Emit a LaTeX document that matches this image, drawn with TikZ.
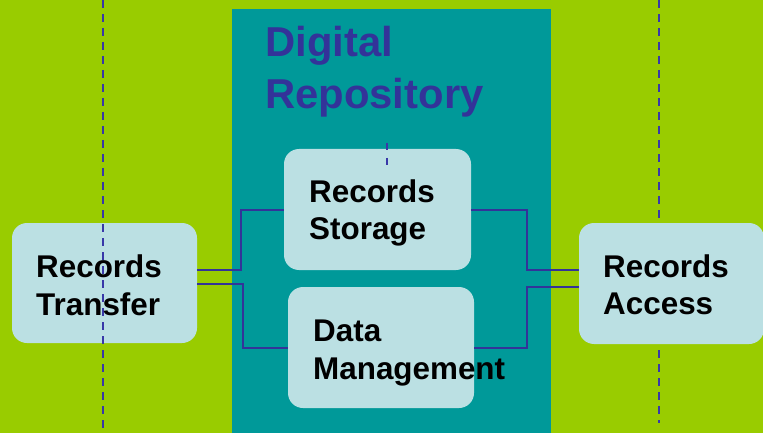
\documentclass[tikz,border=0pt]{standalone}
\usepackage{fontspec}
\setmainfont{Liberation Sans}
\usetikzlibrary{calc}
\definecolor{bggreen}{HTML}{99CC00}
\definecolor{teal}{HTML}{009999}
\definecolor{boxfill}{HTML}{BBE0E3}
\definecolor{linecol}{HTML}{333399}
\definecolor{dashcol}{HTML}{3838A8}
\tikzset{
  box/.style={draw=none, fill=boxfill, rounded corners=15pt, inner sep=0pt},
  lbl/.style={anchor=base west, inner sep=0pt, font=\fontsize{31.4}{38}\selectfont\bfseries, text=black},
  title/.style={anchor=base west, inner sep=0pt, font=\fontsize{41.8}{52}\selectfont\bfseries, text=linecol},
  conn/.style={draw=linecol, line width=2pt},
  dashline/.style={draw=dashcol, line width=1.8pt, dash pattern=on 8pt off 6pt}
}
\begin{document}
\begin{tikzpicture}[x=1pt,y=-1pt]
\useasboundingbox (0,0) rectangle (763,433);
\clip (0,0) rectangle (763,433);
\fill[bggreen] (0,0) rectangle (763,433);
\fill[teal] (232,9) rectangle (551,433);
% right dashed line behind the access box
\coordinate (rdTop) at (659,0);
\coordinate (rdBot) at (659,423);
\draw[dashline] (rdTop) -- (rdBot);
% boxes
\node[box, minimum width=185pt, minimum height=120pt] (transfer) at (104.5,283) {};
\node[box, minimum width=187pt, minimum height=121pt] (storage) at (377.5,209.5) {};
\node[box, minimum width=186pt, minimum height=121pt] (dm) at (381,347.5) {};
\node[box, minimum width=185pt, minimum height=121pt] (access) at (671.5,283.5) {};
% left dashed line over the transfer box
\coordinate (ldTop) at (103,0);
\coordinate (ldBot) at (103,433);
\draw[dashline] (ldTop) -- (ldBot);
% small dashed mark on storage box
\coordinate (sdTop) at (387,143);
\coordinate (sdBot) at (387,165);
\draw[dashline, dash pattern=on 7pt off 8pt] (sdTop) -- (sdBot);
% connectors
\draw[conn] ([yshift=13pt]transfer.east) -| ([xshift=-43pt]storage.west) -- (storage.west);
\draw[conn] ([yshift=-1pt]transfer.east) -| ([xshift=-45pt]dm.west) -- (dm.west);
\draw[conn] (storage.east) -| ([xshift=-52pt,yshift=13.5pt]access.west) -- ([yshift=13.5pt]access.west);
\draw[conn] ([yshift=-3.5pt]access.west) -| ([xshift=53pt]dm.east) -- (dm.east);
% texts
\node[title] (tDig) at (265,57) {Digital};
\node[title] (tRep) at (265,109) {Repository};
\node[lbl] (t1a) at (36,277) {Records};
\node[lbl] (t1b) at (36,315) {Transfer};
\node[lbl] (t2a) at (309,202) {Records};
\node[lbl] (t2b) at (309,239) {Storage};
\node[lbl] (t3a) at (313,341) {Data};
\node[lbl] (t3b) at (313,379) {Management};
\node[lbl] (t4a) at (603,277) {Records};
\node[lbl] (t4b) at (603,314) {Access};
\end{tikzpicture}
\end{document}
